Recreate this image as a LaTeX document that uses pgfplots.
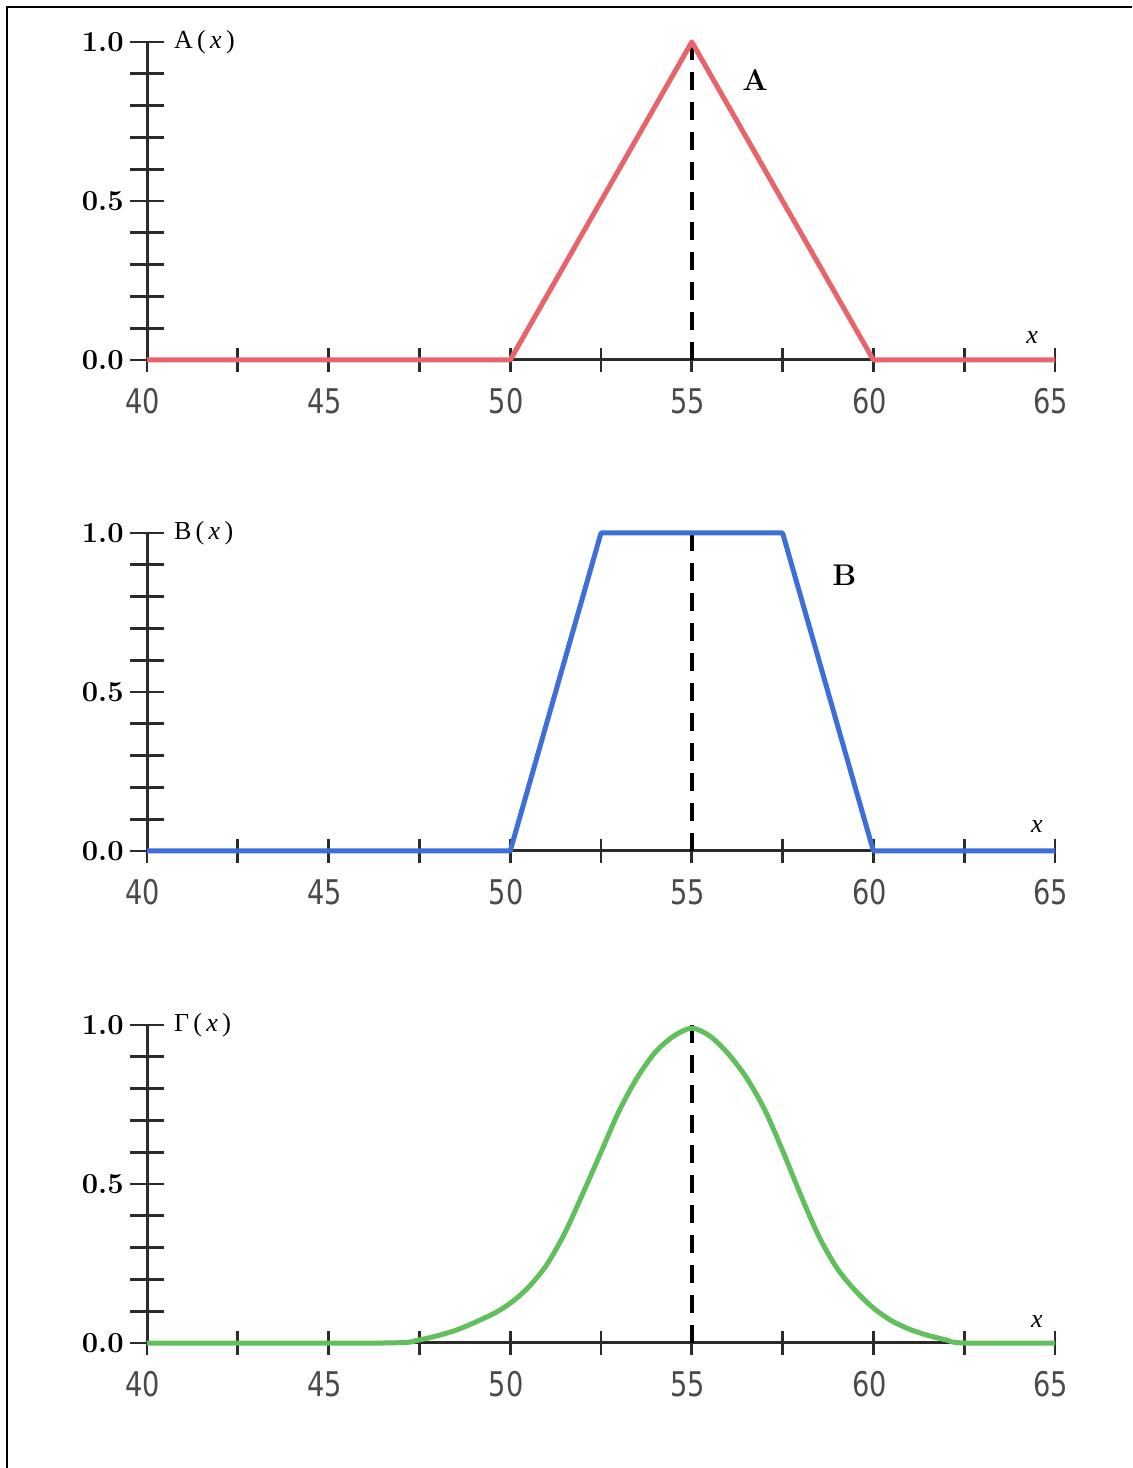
\documentclass[border=0pt]{standalone}
\usepackage{fontspec}
\usepackage{pgfplots}
\pgfplotsset{compat=1.18}
\newfontfamily\tickfont[FakeStretch=0.8]{DejaVu Sans}
\newfontfamily\timesfont{Liberation Serif}

\definecolor{axisgray}{HTML}{2B2B2B}
\definecolor{labgray}{HTML}{4A4A4A}
\definecolor{curveA}{HTML}{E8636C}
\definecolor{curveB}{HTML}{3E6FD9}
\definecolor{curveG}{HTML}{62BF5E}

% common geometry of one membership-function panel
\pgfplotsset{
  mfbase/.style={
    scale only axis, width=454pt, height=159pt,
    xmin=40, xmax=65, ymin=0, ymax=1,
    axis lines=left,
    axis line style={-, line width=1.5pt, color=axisgray},
    tick align=center, clip=false,
    every tick/.style={line width=1.4pt, color=axisgray},
    /pgf/number format/assume math mode=true,
  },
  % horizontal axis with its ticks and labels
  mfx/.style={
    mfbase, hide y axis,
    xtick={40,45,...,65}, minor xtick={42.5,47.5,...,62.5},
    major tick length=12pt, minor tick length=12pt,
    xticklabel style={font=\tickfont\fontsize{17}{19}\selectfont,
      text=labgray, anchor=north, inner sep=0pt, yshift=-8pt, xshift=-2pt},
  },
  % vertical axis with its ticks and labels
  mfy/.style={
    mfbase, hide x axis,
    ytick={0,0.5,1}, minor ytick={0.1,0.2,0.3,0.4,0.6,0.7,0.8,0.9},
    major tick length=17pt, minor tick length=17pt,
    yticklabel style={font=\bfseries\fontsize{14.5}{16}\selectfont,
      text=black, anchor=east, inner sep=0pt, xshift=-3pt},
    yticklabel={\pgfmathprintnumber[fixed,fixed zerofill,precision=1]{\tick}},
  },
}
\tikzset{
  dashmark/.style={black, line width=1.7pt, dash pattern=on 9pt off 6pt},
  fnlabel/.style={font=\timesfont\fontsize{13}{15}\selectfont, anchor=west, xshift=10pt},
  setlabel/.style={font=\bfseries\fontsize{15}{17}\selectfont},
  xlabelnode/.style={font=\timesfont\itshape\fontsize{13}{15}\selectfont},
}

\begin{document}
\begin{tikzpicture}
\path[use as bounding box] (0,0) rectangle (566pt,734pt);
% page frame
\draw[line width=1.2pt, black] (3.5pt,0) -- (3.5pt,730.5pt) -- (566pt,730.5pt);

% ---------- A : triangular ----------
\begin{axis}[mfy, at={(73.5pt,554pt)}, anchor=south west]
\end{axis}
\begin{axis}[mfx, at={(73.5pt,554pt)}, anchor=south west]
  \addplot[dashmark] coordinates {(55,0) (55,1)};
  \addplot[curveA, line width=2.5pt, line join=round] coordinates {(40,0) (50,0) (55,1) (60,0) (65,0)};
  \node[fnlabel] at (axis cs:40,1) {A\,(\,\textit{x}\,)};
  \node[setlabel] at (axis cs:56.74,0.88) {A};
  \node[xlabelnode] at (axis cs:64.37,0.072) {x};
\end{axis}

% ---------- B : trapezoidal ----------
\begin{axis}[mfy, at={(73.5pt,308.5pt)}, anchor=south west]
\end{axis}
\begin{axis}[mfx, at={(73.5pt,308.5pt)}, anchor=south west]
  \addplot[dashmark] coordinates {(55,0) (55,1)};
  \addplot[curveB, line width=2.5pt, line join=round] coordinates {(40,0) (50,0) (52.5,1) (57.5,1) (60,0) (65,0)};
  \node[fnlabel] at (axis cs:40,1) {B\,(\,\textit{x}\,)};
  \node[setlabel] at (axis cs:59.2,0.868) {B};
  \node[xlabelnode] at (axis cs:64.5,0.078) {x};
\end{axis}

% ---------- Gamma : bell-shaped ----------
\begin{axis}[mfy, at={(73.5pt,62.5pt)}, anchor=south west]
\end{axis}
\begin{axis}[mfx, at={(73.5pt,62.5pt)}, anchor=south west]
  \addplot[dashmark] coordinates {(55,0) (55,1)};
  \addplot[curveG, line width=2.5pt, smooth, tension=0.5] coordinates {
    (40,0) (46.5,0) (47.5,0.01) (48.5,0.04) (49.5,0.09) (50,0.125)
    (50.5,0.175) (51,0.245) (51.5,0.345) (52,0.47) (52.5,0.60)
    (53,0.73) (53.5,0.835) (54,0.915) (54.5,0.965) (55,0.99)
    (55.5,0.965) (56,0.91) (56.5,0.835) (57,0.735) (57.5,0.605)
    (58,0.465) (58.5,0.335) (59,0.235) (59.5,0.165) (60,0.11)
    (60.5,0.07) (61,0.043) (61.5,0.024) (62,0.01) (62.5,0) (65,0)};
  \node[fnlabel] at (axis cs:40,1) {Γ\,(\,\textit{x}\,)};
  \node[font=\fontsize{15}{17}\selectfont] at (axis cs:57.97,0.82) {$\mathbf{\Gamma}$};
  \node[xlabelnode] at (axis cs:64.5,0.066) {x};
\end{axis}
\end{tikzpicture}
\end{document}
